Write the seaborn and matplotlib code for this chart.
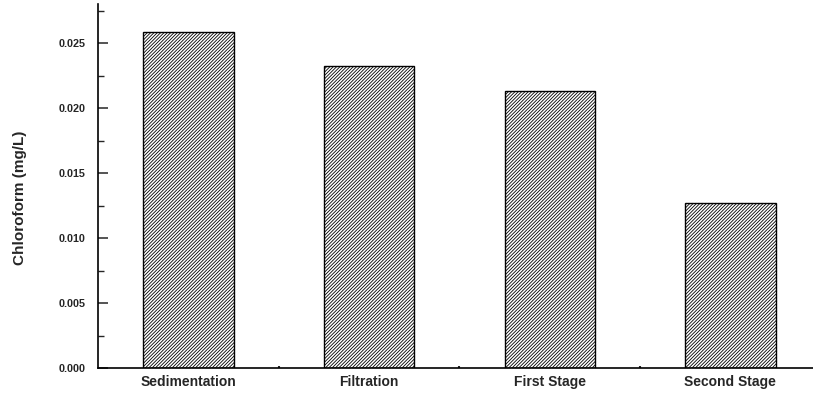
import matplotlib
matplotlib.use("Agg")
import matplotlib.pyplot as plt
import seaborn as sns
import pandas as pd
from matplotlib.ticker import FixedLocator

categories = ["Sedimentation", "Filtration", "First Stage", "Second Stage"]
chloroform = [0.0259, 0.02328, 0.02135, 0.01272]
y_ticks = [0.000, 0.005, 0.010, 0.015, 0.020, 0.025]
y_tick_labels = ["0.000", "0.005", "0.010", "0.015", "0.020", "0.025"]
y_label = "Chloroform (mg/L)"

df = pd.DataFrame({"stage": categories, "value": chloroform})

sns.set_style("ticks")
plt.rcParams["font.family"] = ["Liberation Sans", "DejaVu Sans"]
plt.rcParams["font.weight"] = "bold"
plt.rcParams["hatch.linewidth"] = 0.6
plt.rcParams["hatch.color"] = "black"

fig = plt.figure(figsize=(8.13, 3.96), dpi=100)
ax = fig.add_axes([98 / 813, 27.7 / 396, 1 - 98 / 813, 364.3 / 396])

sns.barplot(data=df, x="stage", y="value", color="white", edgecolor="black",
            linewidth=1.0, width=0.5, ax=ax, saturation=1)
for p in ax.patches:
    p.set_hatch("//////////")
    p.set_facecolor("white")
    p.set_edgecolor("black")

ax.set_xlim(-0.5, 3.457)
ax.set_ylim(0, 0.02803)

ax.set_yticks(y_ticks)
ax.set_yticklabels(y_tick_labels, fontsize=7.8, fontweight="bold")
ax.yaxis.set_minor_locator(FixedLocator([0.0025, 0.0075, 0.0125, 0.0175, 0.0225, 0.0275]))
ax.tick_params(axis="y", which="major", direction="in", length=7.5, width=1.1, pad=9)
ax.tick_params(axis="y", which="minor", direction="in", length=4.5, width=1.0)

ax.set_xticks(range(len(categories)))
ax.set_xticklabels(categories, fontsize=10, fontweight="bold")
ax.xaxis.set_minor_locator(FixedLocator([0.5, 1.5, 2.5]))
ax.tick_params(axis="x", which="major", direction="in", length=1.5, width=1.5, pad=5)
ax.tick_params(axis="x", which="minor", direction="in", length=1.5, width=1.5)

ax.set_xlabel("")
ax.set_ylabel(y_label, fontsize=11, fontweight="bold")
ax.yaxis.set_label_coords(27 / 813, 1 - 198 / 396, transform=fig.transFigure)

for s in ["top", "right"]:
    ax.spines[s].set_visible(False)
for s in ["left", "bottom"]:
    ax.spines[s].set_linewidth(1.2)
    ax.spines[s].set_color("black")

fig.savefig("out.png", dpi=100)
